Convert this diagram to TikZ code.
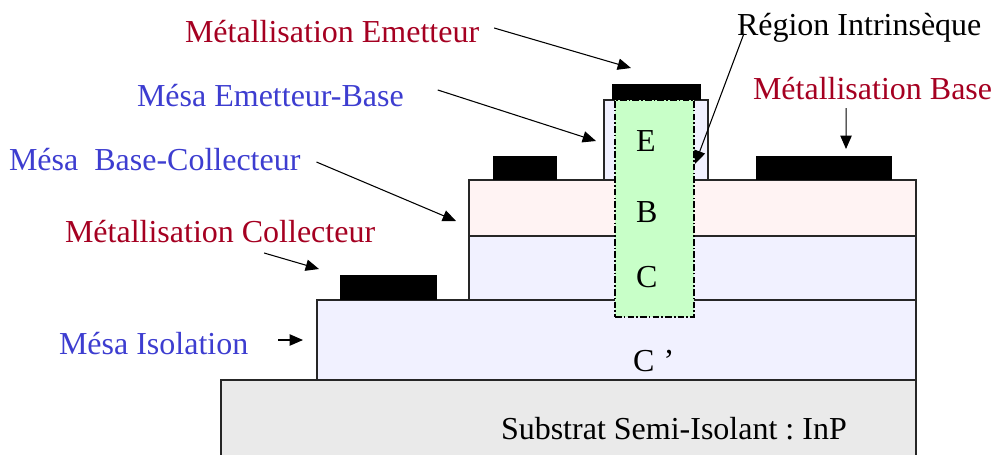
\documentclass[tikz,border=0pt]{standalone}
\usepackage{fontspec}
\setmainfont{Liberation Serif}
\usetikzlibrary{arrows.meta,calc}
\definecolor{lblblue}{HTML}{3D3DD0}
\definecolor{lblred}{HTML}{A50021}
\definecolor{mesablue}{HTML}{F1F1FF}
\definecolor{mesapink}{HTML}{FFF3F3}
\definecolor{subgrey}{HTML}{EAEAEA}
\definecolor{intgreen}{HTML}{C8FFC8}
\frenchspacing
\tikzset{
  x=0.75pt,y=-0.75pt,
  layer/.style={draw=black!85,line width=0.8pt,anchor=north west,inner sep=0pt,outer sep=0pt},
  metal/.style={fill=black,draw=none,anchor=north west,inner sep=0pt,outer sep=0pt},
  txt/.style={font=\fontsize{24}{28}\selectfont,inner sep=0pt,outer sep=0pt,anchor=base west},
  redlbl/.style={txt,text=lblred},
  bluelbl/.style={txt,text=lblblue},
  ptr/.style={-{Triangle[length=10pt,width=8.5pt]},line width=0.8pt,black},
}
\begin{document}
\begin{tikzpicture}
\useasboundingbox (0,0) rectangle (994,454);
% layers
\node[layer,fill=subgrey,minimum width=521.25pt,minimum height=70pt] (sub) at (221,380) {};
\node[layer,fill=mesablue,minimum width=449.25pt,minimum height=60pt] (iso) at (317,300) {};
\node[layer,fill=mesablue,minimum width=335.25pt,minimum height=48pt] (coll) at (469,236) {};
\node[layer,fill=mesapink,minimum width=335.25pt,minimum height=42pt] (base) at (469,180) {};
\node[layer,fill=mesablue,minimum width=78pt,minimum height=60pt] (emit) at (604,100) {};
% metals
\node[metal,minimum width=66.75pt,minimum height=12pt] (mE) at (612,84) {};
\node[metal,minimum width=48pt,minimum height=18pt] (mB1) at (493,156) {};
\node[metal,minimum width=102pt,minimum height=18pt] (mB2) at (756,156) {};
\node[metal,minimum width=72.75pt,minimum height=18.75pt] (mC) at (340,275) {};
% intrinsic region
\node[anchor=north west,inner sep=0pt,outer sep=0pt,fill=intgreen,draw=black,line width=0.8pt,dash pattern=on 5pt off 1.6pt on 1.2pt off 1.6pt,minimum width=59.25pt,minimum height=162.75pt] (intr) at (615,100) {};
% region letters
\node[txt] (tE) at (636,151) {E};
\node[txt] (tB) at (636,222) {B};
\node[txt] (tC) at (636,287) {C};
\node[txt] (tCp) at (633,371) {C\ \kern1pt’};
\node[txt] (tSub) at (501,439) {Substrat Semi-Isolant : InP};
% labels
\node[redlbl] (lME) at (185,42) {Métallisation Emetteur};
\node[bluelbl] (lMEB) at (137,106) {Mésa Emetteur-Base};
\node[txt] (lRI) at (737,35) {Région Intrinsèque};
\node[redlbl] (lMB) at (753,99) {Métallisation Base};
\node[bluelbl] (lMBC) at (9,170) {Mésa\ \ Base-Collecteur};
\node[redlbl] (lMC) at (65,242) {Métallisation Collecteur};
\node[bluelbl] (lMI) at (59,354) {Mésa Isolation};
% connector ends
\coordinate (eME) at (631,68);
\coordinate (eMEB) at (596,141);
\coordinate (eRI) at (695,164);
\coordinate (eMB) at (846,149);
\coordinate (eMBC) at (456,221);
\coordinate (eMC) at (319,269);
\coordinate (eMI) at (303,340);
% connectors
\draw[ptr] ([shift={(15,-14)}]lME.base east) -- (eME);
\draw[ptr] ([shift={(34,-16)}]lMEB.base east) -- (eMEB);
\draw[ptr] ([shift={(-238,0)}]lRI.base east) -- (eRI);
\draw[ptr] (lMB.base east) ++(-146,9) -- (eMB);
\draw[ptr] ([shift={(16,-8)}]lMBC.base east) -- (eMBC);
\draw[ptr] ([shift={(-111,11)}]lMC.base east) -- (eMC);
\draw[ptr] ([shift={(30,-14)}]lMI.base east) -- (eMI);
\end{tikzpicture}
\end{document}
